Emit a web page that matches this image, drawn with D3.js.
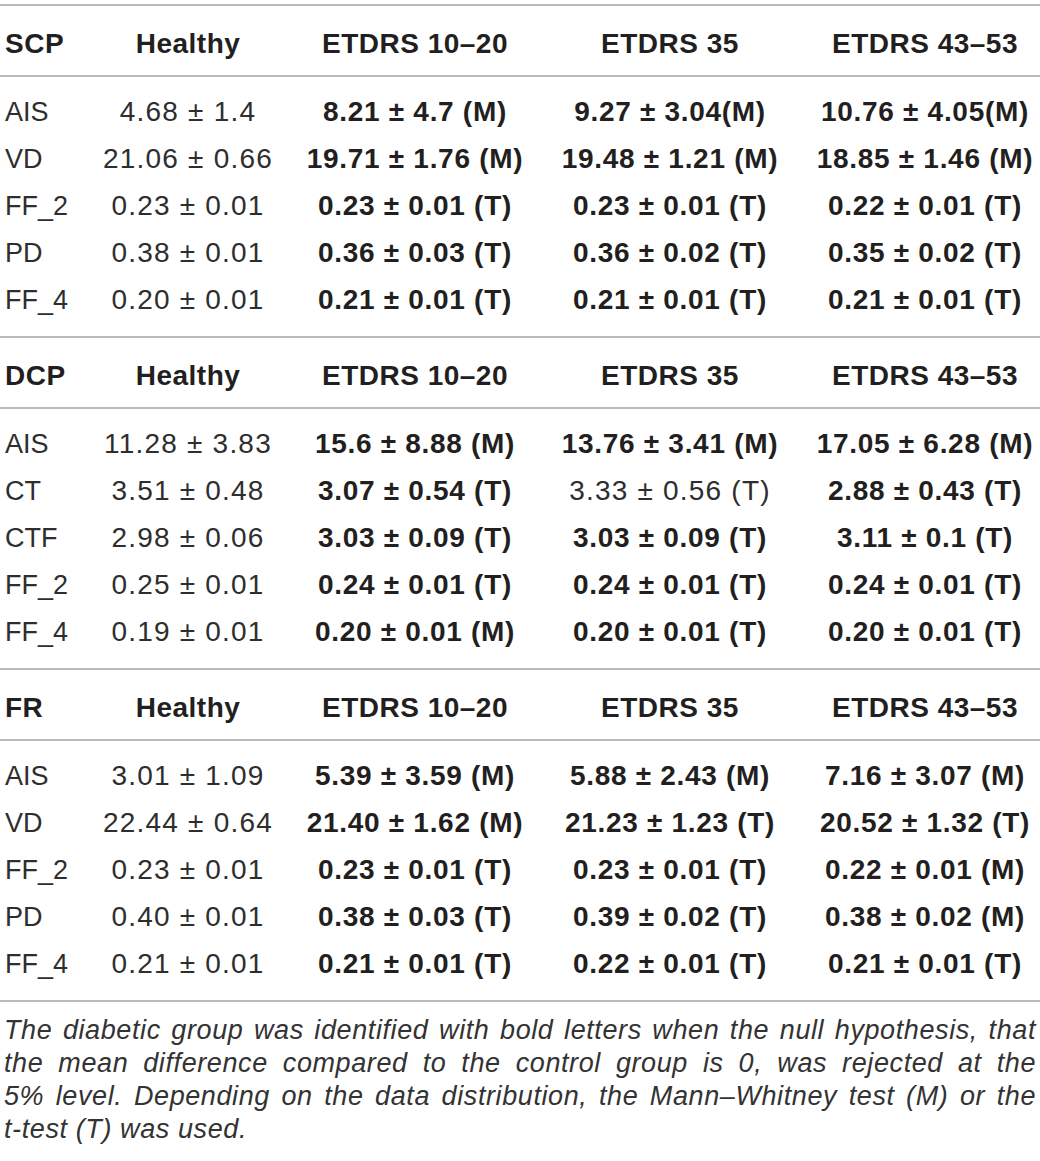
<!DOCTYPE html>
<html>
<head>
<meta charset="utf-8">
<script src="https://cdn.jsdelivr.net/npm/d3@7"></script>
<style>
  html, body { margin: 0; padding: 0; background: #fff; }
  svg { display: block; }
</style>
</head>
<body>
<div id="table"></div>
<script>
// Table content
const sectionNames = ['SCP', 'DCP', 'FR'];
const columnHeads = ['Healthy', 'ETDRS 10–20', 'ETDRS 35', 'ETDRS 43–53'];

const scpParams = ['AIS', 'VD', 'FF_2', 'PD', 'FF_4'];
const scpHealthy = ['4.68 ± 1.4', '21.06 ± 0.66', '0.23 ± 0.01', '0.38 ± 0.01', '0.20 ± 0.01'];
const scpEtdrs1020 = ['8.21 ± 4.7 (M)', '19.71 ± 1.76 (M)', '0.23 ± 0.01 (T)', '0.36 ± 0.03 (T)', '0.21 ± 0.01 (T)'];
const scpEtdrs35 = ['9.27 ± 3.04(M)', '19.48 ± 1.21 (M)', '0.23 ± 0.01 (T)', '0.36 ± 0.02 (T)', '0.21 ± 0.01 (T)'];
const scpEtdrs4353 = ['10.76 ± 4.05(M)', '18.85 ± 1.46 (M)', '0.22 ± 0.01 (T)', '0.35 ± 0.02 (T)', '0.21 ± 0.01 (T)'];

const dcpParams = ['AIS', 'CT', 'CTF', 'FF_2', 'FF_4'];
const dcpHealthy = ['11.28 ± 3.83', '3.51 ± 0.48', '2.98 ± 0.06', '0.25 ± 0.01', '0.19 ± 0.01'];
const dcpEtdrs1020 = ['15.6 ± 8.88 (M)', '3.07 ± 0.54 (T)', '3.03 ± 0.09 (T)', '0.24 ± 0.01 (T)', '0.20 ± 0.01 (M)'];
const dcpEtdrs35 = ['13.76 ± 3.41 (M)', '3.33 ± 0.56 (T)', '3.03 ± 0.09 (T)', '0.24 ± 0.01 (T)', '0.20 ± 0.01 (T)'];
const dcpEtdrs4353 = ['17.05 ± 6.28 (M)', '2.88 ± 0.43 (T)', '3.11 ± 0.1 (T)', '0.24 ± 0.01 (T)', '0.20 ± 0.01 (T)'];

const frParams = ['AIS', 'VD', 'FF_2', 'PD', 'FF_4'];
const frHealthy = ['3.01 ± 1.09', '22.44 ± 0.64', '0.23 ± 0.01', '0.40 ± 0.01', '0.21 ± 0.01'];
const frEtdrs1020 = ['5.39 ± 3.59 (M)', '21.40 ± 1.62 (M)', '0.23 ± 0.01 (T)', '0.38 ± 0.03 (T)', '0.21 ± 0.01 (T)'];
const frEtdrs35 = ['5.88 ± 2.43 (M)', '21.23 ± 1.23 (T)', '0.23 ± 0.01 (T)', '0.39 ± 0.02 (T)', '0.22 ± 0.01 (T)'];
const frEtdrs4353 = ['7.16 ± 3.07 (M)', '20.52 ± 1.32 (T)', '0.22 ± 0.01 (M)', '0.38 ± 0.02 (M)', '0.21 ± 0.01 (T)'];

// diabetic cells that were not significant (not bold): [section, row, column]
const notSignificant = [['DCP', 1, 'ETDRS 35']];

const footnoteLines = [
  'The diabetic group was identified with bold letters when the null hypothesis, that',
  'the mean difference compared to the control group is 0, was rejected at the',
  '5% level. Depending on the data distribution, the Mann–Whitney test (M) or the',
  't-test (T) was used.'
];

// build the cell list
const sections = [
  { name: 'SCP', params: scpParams, cols: [scpHealthy, scpEtdrs1020, scpEtdrs35, scpEtdrs4353] },
  { name: 'DCP', params: dcpParams, cols: [dcpHealthy, dcpEtdrs1020, dcpEtdrs35, dcpEtdrs4353] },
  { name: 'FR', params: frParams, cols: [frHealthy, frEtdrs1020, frEtdrs35, frEtdrs4353] }
];

const cells = [];
sections.forEach((s) => {
  s.params.forEach((p, i) => {
    cells.push({ section: s.name, row: i, col: 'param', text: p, bold: false, label: true });
    s.cols.forEach((vals, j) => {
      const col = columnHeads[j];
      const isDiabetic = j > 0;
      const ns = notSignificant.some((n) => n[0] === s.name && n[1] === i && n[2] === col);
      cells.push({ section: s.name, row: i, col, text: vals[i], bold: isDiabetic && !ns, label: false });
    });
  });
});

// Canvas
const width = 1040;
const height = 1161;

const svg = d3.select('#table')
  .append('svg')
  .attr('width', width)
  .attr('height', height)
  .style('font-family', '"Liberation Sans", Arial, Helvetica, sans-serif');

// Scales
const xCol = d3.scaleOrdinal().domain(['param', ...columnHeads]).range([5, 188, 415, 670, 925]);
const ySection = d3.scaleBand().domain(sectionNames).range([5, 1001]).padding(0);
const yRow = d3.scaleLinear().domain([0, 4]).range([116, 304]);
const headBase = 48;
const headRule = 71;

const ruleColor = '#a3a3a3';
const textColor = '#231f20';

// Rules
const rules = [];
sectionNames.forEach((s) => {
  rules.push(ySection(s));
  rules.push(ySection(s) + headRule);
});
rules.push(ySection.range()[1]);

svg.selectAll('line.rule')
  .data(rules).enter()
  .append('line')
  .attr('class', 'rule')
  .attr('x1', 0)
  .attr('x2', width)
  .attr('y1', (d) => d)
  .attr('y2', (d) => d)
  .attr('stroke', ruleColor)
  .attr('stroke-width', 1.6);

// Header rows
const heads = [];
sectionNames.forEach((s) => {
  heads.push({ section: s, col: 'param', text: s });
  columnHeads.forEach((c) => heads.push({ section: s, col: c, text: c }));
});

svg.selectAll('text.head')
  .data(heads).enter()
  .append('text')
  .attr('class', 'head')
  .attr('x', (d) => xCol(d.col))
  .attr('y', (d) => ySection(d.section) + headBase)
  .attr('text-anchor', (d) => (d.col === 'param' ? 'start' : 'middle'))
  .attr('font-weight', 'bold')
  .attr('font-size', 28)
  .attr('letter-spacing', 0.5)
  .attr('fill', textColor)
  .text((d) => d.text);

// Body cells
svg.selectAll('text.cell')
  .data(cells).enter()
  .append('text')
  .attr('class', 'cell')
  .attr('x', (d) => xCol(d.col))
  .attr('y', (d) => ySection(d.section) + yRow(d.row))
  .attr('text-anchor', (d) => (d.label ? 'start' : 'middle'))
  .attr('font-weight', (d) => (d.bold ? 'bold' : 'normal'))
  .attr('font-size', (d) => (d.label ? 27 : 28))
  .attr('letter-spacing', (d) => (d.label ? 0 : (d.bold ? 0.7 : 1.2)))
  .attr('fill', (d) => (d.bold ? textColor : '#2e2e2e'))
  .text((d) => d.text);

// Footnote, justified except the last line
const footLeft = 4;
const footRight = 1036;
const yFoot = d3.scaleLinear().domain([0, 3]).range([1039, 1138]);

const foot = svg.selectAll('text.foot')
  .data(footnoteLines).enter()
  .append('text')
  .attr('class', 'foot')
  .attr('x', footLeft)
  .attr('y', (d, i) => yFoot(i))
  .attr('font-style', 'italic')
  .attr('font-size', 27)
  .attr('letter-spacing', 0.6)
  .attr('fill', '#333')
  .text((d) => d);

foot.each(function j(d, i) {
  if (i === footnoteLines.length - 1) return;
  const natural = this.getComputedTextLength();
  const gaps = d.split(' ').length - 1;
  const extra = (footRight - footLeft - natural) / gaps;
  d3.select(this).attr('word-spacing', extra);
});
</script>
</body>
</html>
